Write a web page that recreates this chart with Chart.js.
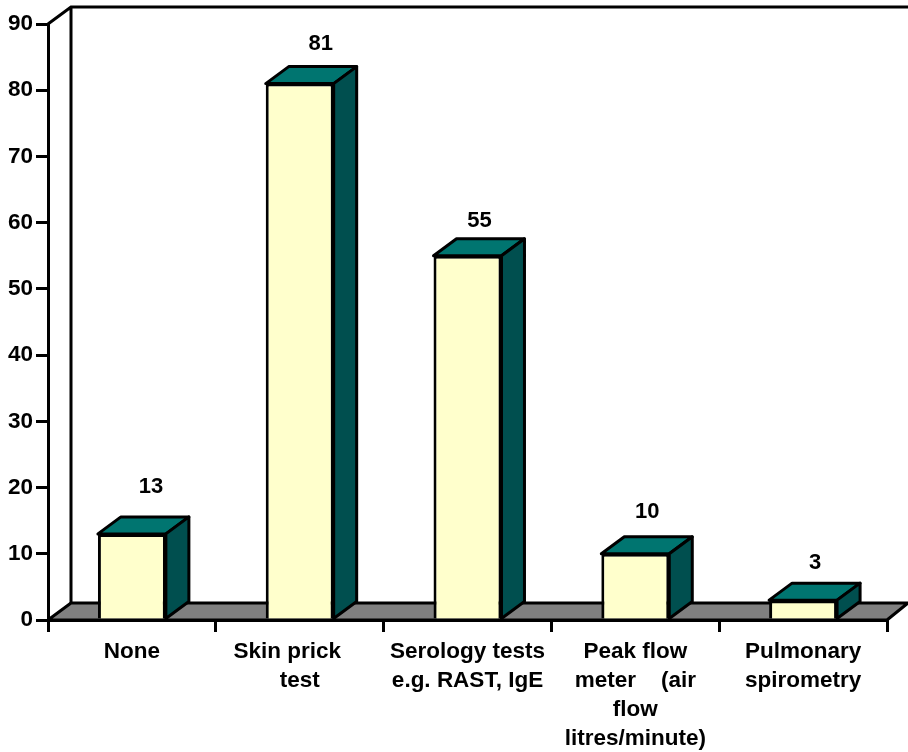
<!DOCTYPE html>
<html>
<head>
<meta charset="utf-8">
<title>Diagnostic tests</title>
<script src="https://cdn.jsdelivr.net/npm/chart.js@4"></script>
<style>
    html, body { margin: 0; padding: 0; background: #fff; }
    #wrap { width: 908px; height: 752px; }
</style>
</head>
<body>
<div id="wrap"><canvas id="testsChart" width="908" height="752"></canvas></div>
<script>
// Valeurs du graphique
const categories = [
    'None',
    ['Skin prick    ', 'test'],
    ['Serology tests', 'e.g. RAST, IgE'],
    ['Peak flow', 'meter    (air', 'flow', 'litres/minute)'],
    ['Pulmonary', 'spirometry']
];
const counts = [13, 81, 55, 10, 3];
const yTicks = [0, 10, 20, 30, 40, 50, 60, 70, 80, 90];

// Profondeur de l'effet 3D
const DEPTH_X = 23;
const DEPTH_Y = 17;
const LINE = 3;
const FONT = { family: '"Liberation Sans", Arial, sans-serif', size: 22.5, weight: 'bold' };
const VALUE_FONT = 'bold 22px "Liberation Sans", Arial, sans-serif';

// Décalage manuel de chaque étiquette de valeur par rapport au haut de sa barre
const labelShiftX = [19, 21, 12, 12, 12];
const labelShiftY = [47, 40, 35, 42, 37];

function poly(ctx, pts, fill) {
    ctx.beginPath();
    pts.forEach((p, i) => i ? ctx.lineTo(p[0], p[1]) : ctx.moveTo(p[0], p[1]));
    ctx.closePath();
    if (fill) { ctx.fillStyle = fill; ctx.fill(); }
    ctx.strokeStyle = '#000';
    ctx.lineWidth = LINE;
    ctx.lineJoin = 'round';
    ctx.stroke();
}

// Paroi du fond et sol gris, sous les barres
const backdrop = {
    id: 'backdrop',
    beforeDatasetsDraw(chart) {
        const { ctx, chartArea: a, width } = chart;
        ctx.save();
        ctx.strokeStyle = '#000';
        ctx.lineWidth = LINE;
        ctx.beginPath();
        ctx.moveTo(a.left, a.top);
        ctx.lineTo(a.left + DEPTH_X, a.top - DEPTH_Y);
        ctx.lineTo(width, a.top - DEPTH_Y);
        ctx.moveTo(a.left + DEPTH_X, a.top - DEPTH_Y);
        ctx.lineTo(a.left + DEPTH_X, a.bottom - DEPTH_Y);
        ctx.stroke();
        poly(ctx, [
            [a.left, a.bottom],
            [a.left + DEPTH_X, a.bottom - DEPTH_Y],
            [a.right + DEPTH_X - 2, a.bottom - DEPTH_Y],
            [a.right, a.bottom]
        ], '#808080');
        ctx.restore();
    }
};

// Faces supérieure et latérale de chaque barre, puis la valeur au-dessus
const bars3d = {
    id: 'bars3d',
    afterDatasetsDraw(chart) {
        const { ctx } = chart;
        ctx.save();
        chart.getDatasetMeta(0).data.forEach((bar, i) => {
            const left = bar.x - bar.width / 2;
            const right = bar.x + bar.width / 2;
            const top = bar.y;
            const base = bar.base;
            poly(ctx, [
                [left, top],
                [left + DEPTH_X, top - DEPTH_Y],
                [right + DEPTH_X, top - DEPTH_Y],
                [right, top]
            ], '#007570');
            poly(ctx, [
                [right, top],
                [right + DEPTH_X, top - DEPTH_Y],
                [right + DEPTH_X, base - DEPTH_Y],
                [right, base]
            ], '#004f4f');
            ctx.fillStyle = '#000';
            ctx.font = VALUE_FONT;
            ctx.textAlign = 'center';
            ctx.textBaseline = 'middle';
            ctx.fillText(String(counts[i]), bar.x + labelShiftX[i], top - labelShiftY[i]);
        });
        ctx.restore();
    }
};

new Chart(document.getElementById('testsChart'), {
    type: 'bar',
    data: {
        labels: categories,
        datasets: [{
            data: counts,
            backgroundColor: '#ffffcc',
            borderColor: '#000',
            borderWidth: LINE,
            barPercentage: 0.405,
            categoryPercentage: 1
        }]
    },
    options: {
        responsive: false,
        animation: false,
        layout: { padding: { top: 24, right: 21, left: 0, bottom: 0 } },
        plugins: { legend: { display: false }, tooltip: { enabled: false } },
        scales: {
            x: {
                afterFit(axis) { axis.height = 132; },
                grid: { drawOnChartArea: false, offset: true, tickLength: 12, color: '#000', lineWidth: LINE },
                border: { color: '#000', width: LINE },
                ticks: { color: '#000', font: { ...FONT, lineHeight: 1.29 }, maxRotation: 0, autoSkip: false, padding: 5 }
            },
            y: {
                min: 0,
                max: 90,
                afterFit(axis) { axis.width = 48; },
                afterBuildTicks(axis) { axis.ticks = yTicks.map(v => ({ value: v })); },
                grid: { drawOnChartArea: false, tickLength: 12, color: '#000', lineWidth: LINE },
                border: { color: '#000', width: LINE },
                ticks: { color: '#000', font: FONT, padding: 3 }
            }
        }
    },
    plugins: [backdrop, bars3d]
});
</script>
</body>
</html>
